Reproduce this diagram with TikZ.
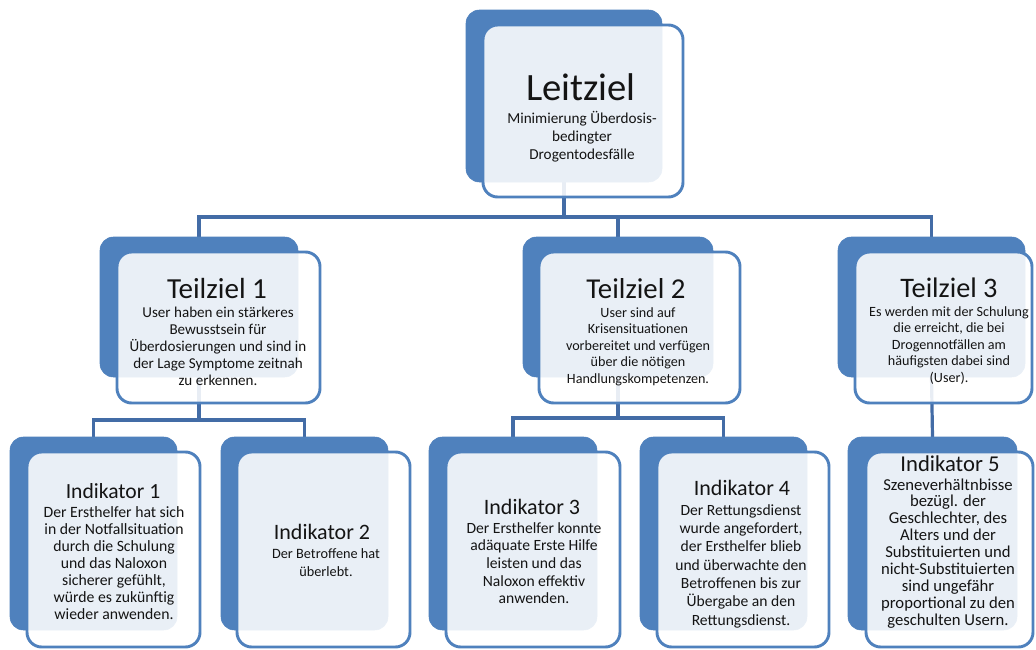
\documentclass[tikz,border=0pt]{standalone}
\usepackage{fontspec}
\setmainfont{Carlito}
\usetikzlibrary{fit}
\pgfdeclarelayer{bg}
\pgfdeclarelayer{canvas}
\pgfsetlayers{canvas,bg,main}
\definecolor{accent}{RGB}{79,129,189}
\definecolor{conncol}{RGB}{67,108,166}
\definecolor{txtcol}{RGB}{20,20,20}
\newcommand\ctext[3]{\vtop{\fontsize{#1}{#2}\selectfont\lineskiplimit=-\maxdimen\halign{\hfil##\hfil\cr #3\crcr}}}
\tikzset{
  backbox/.style={fill=accent, draw=accent, line width=0.4pt, rounded corners=10pt, inner sep=0pt, outer sep=0pt},
  frontbox/.style={fill=white, fill opacity=0.88, draw=accent, line width=2.2pt, rounded corners=11pt, inner sep=0pt, outer sep=0pt},
  conn/.style={draw=conncol, line width=2.4pt},
  ttl/.style={anchor=base, inner sep=0pt, text=txtcol},
  body/.style={anchor=base, inner sep=0pt, text=txtcol},
}
\begin{document}
\begin{tikzpicture}[x=0.75pt, y=-0.75pt]
\begin{pgfonlayer}{canvas}
\fill[white] (0,0) rectangle (1036,650);
\end{pgfonlayer}
\useasboundingbox (0,0) rectangle (1036,650);
% back boxes
\node[backbox, fit={(466,10) (662,182)}] (l0b) {};
\node[backbox, fit={(100,237) (298,377)}] (t1b) {};
\node[backbox, fit={(523,237) (713,377)}] (t2b) {};
\node[backbox, fit={(838,237) (1025,377)}] (t3b) {};
\node[backbox, fit={(10,437) (177,630)}] (i1b) {};
\node[backbox, fit={(221,437) (388,630)}] (i2b) {};
\node[backbox, fit={(429,437) (597,630)}] (i3b) {};
\node[backbox, fit={(640,437) (807,630)}] (i4b) {};
\node[backbox, fit={(848,437) (1017,630)}] (i5b) {};
% connectors
\coordinate (j0) at (564,217);
\coordinate (j1) at (198,420);
\coordinate (j2) at (617,418);
\begin{pgfonlayer}{bg}
\draw[conn] (l0b.south) -- (l0b.south |- j0) -| (t1b.north);
\draw[conn] (l0b.south |- j0) -| (t2b.north);
\draw[conn] (l0b.south |- j0) -| (t3b.north);
\draw[conn] (t1b.south) -- (t1b.south |- j1) -| (i1b.north);
\draw[conn] (t1b.south |- j1) -| (i2b.north);
\draw[conn] (t2b.south) -- (t2b.south |- j2) -| (i3b.north);
\draw[conn] (t2b.south |- j2) -| (i4b.north);
\draw[conn] (t3b.south) -- (i5b.north);
\end{pgfonlayer}
% front boxes
\node[frontbox, fit={(483,25) (683,197)}] (l0) {};
\node[frontbox, fit={(117,252) (320,403)}] (t1) {};
\node[frontbox, fit={(539,252) (740,403)}] (t2) {};
\node[frontbox, fit={(855,252) (1032,403)}] (t3) {};
\node[frontbox, fit={(27,452) (200,647)}] (i1) {};
\node[frontbox, fit={(237,452) (410,647)}] (i2) {};
\node[frontbox, fit={(446,452) (620,647)}] (i3) {};
\node[frontbox, fit={(657,452) (829,647)}] (i4) {};
\node[frontbox, fit={(866,452) (1033,647)}] (i5) {};
% texts
\node[ttl, font=\fontsize{29}{31}\selectfont] (l0h) at (581,100) {Leitziel};
\node[body] (l0d) at (582,123) {\ctext{11.4}{13.5}{Minimierung Überdosis-\cr bedingter\cr Drogentodesfälle}};
\node[ttl, font=\fontsize{21.8}{24}\selectfont] (t1h) at (217,298) {Teilziel 1};
\node[body] (t1d) at (218,317) {\ctext{11.3}{12.75}{User haben ein stärkeres\cr Bewusstsein für\cr Überdosierungen und sind in\cr der Lage Symptome zeitnah\cr zu erkennen.}};
\node[ttl, font=\fontsize{21.6}{24}\selectfont] (t2h) at (636,298) {Teilziel 2};
\node[body] (t2d) at (638,317) {\ctext{10.6}{12.4}{User sind auf\cr Krisensituationen\cr vorbereitet und verfügen\cr über die nötigen\cr Handlungskompetenzen.}};
\node[ttl, font=\fontsize{21.2}{24}\selectfont] (t3h) at (949,297) {Teilziel 3};
\node[body] (t3d) at (949,316) {\ctext{10.6}{12.4}{Es werden mit der Schulung\cr die erreicht, die bei\cr Drogennotfällen am\cr häufigsten dabei sind\cr (User).}};
\node[ttl, font=\fontsize{16.2}{18}\selectfont] (i1h) at (113,498) {Indikator 1};
\node[body] (i1d) at (114,517) {\ctext{11.8}{12.75}{Der Ersthelfer hat sich\cr in der Notfallsituation\cr durch die Schulung\cr und das Naloxon\cr sicherer gefühlt,\cr würde es zukünftig\cr wieder anwenden.}};
\node[ttl, font=\fontsize{16.5}{18}\selectfont] (i2h) at (322,539) {Indikator 2};
\node[body] (i2d) at (326,558) {\ctext{10.7}{14.2}{Der Betroffene hat\cr überlebt.}};
\node[ttl, font=\fontsize{16.5}{18}\selectfont] (i3h) at (532,514) {Indikator 3};
\node[body] (i3d) at (534,533) {\ctext{11.7}{13.3}{Der Ersthelfer konnte\cr adäquate Erste Hilfe\cr leisten und das\cr Naloxon effektiv\cr anwenden.}};
\node[ttl, font=\fontsize{16.5}{18}\selectfont] (i4h) at (742,495) {Indikator 4};
\node[body] (i4d) at (741,515) {\ctext{11.7}{13.75}{Der Rettungsdienst\cr wurde angefordert,\cr der Ersthelfer blieb\cr und überwachte den\cr Betroffenen bis zur\cr Übergabe an den\cr Rettungsdienst.}};
\node[ttl, font=\fontsize{17}{19}\selectfont] (i5h) at (950,471) {Indikator 5};
\node[body] (i5d) at (948,490) {\ctext{12.5}{12.7}{Szeneverhältnbisse\cr bezügl. der\cr Geschlechter, des\cr Alters und der\cr Substituierten und\cr nicht-Substituierten\cr sind ungefähr\cr proportional zu den\cr geschulten Usern.}};
\end{tikzpicture}
\end{document}
